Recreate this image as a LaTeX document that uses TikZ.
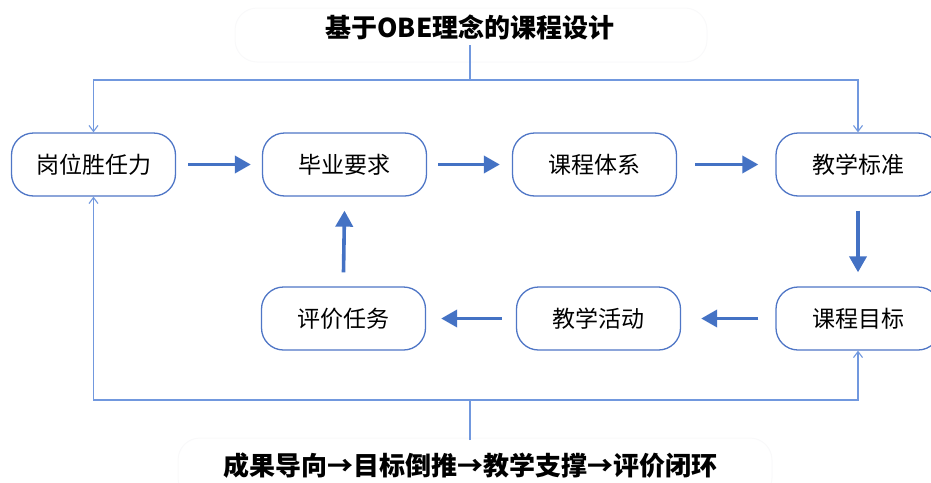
\documentclass[tikz,border=0pt]{standalone}
\usepackage{fontspec}
\newfontfamily\cjk{Noto Sans CJK SC}
\usetikzlibrary{arrows.meta}
\definecolor{boxblue}{HTML}{4F76C6}
\definecolor{thinblue}{HTML}{7198DE}
\definecolor{thickblue}{HTML}{4472C4}
\definecolor{faint}{HTML}{F9F9FA}
\tikzset{
  stepbox/.style={draw=boxblue, line width=1.3pt, rounded corners=22pt, fill=white,
    minimum width=164pt, minimum height=63pt, inner sep=0pt, font=\cjk\fontsize{23}{23}\selectfont},
  thin/.style={draw=thinblue, line width=1.2pt},
  thinarrow/.style={thin, -{Straight Barb[length=6pt,width=9pt,line width=1.1pt]}},
  bigarrow/.style={draw=thickblue, line width=3.6pt, -{Triangle[length=16pt,width=17pt]}},
  headline/.style={font=\cjk\bfseries\fontsize{26}{26}\selectfont, text=black},
  faintbox/.style={draw=faint, line width=1pt, rounded corners=22pt, fill=white}
}
\begin{document}
\begin{tikzpicture}[x=1pt,y=-1pt]
\useasboundingbox (0,0) rectangle (931,482);
\begin{scope}
\clip (0,0) rectangle (931,482);
% faint background boxes
\path[faintbox] (235,8) rectangle (707,62);
\path[faintbox] (178,438) rectangle (772,500);
% titles
\node[headline] (title) at (470,27) {基于OBE理念的课程设计};
\node[headline] (foot) at (470,466) {成果导向→目标倒推→教学支撑→评价闭环};
% nodes
\node[stepbox] (n1) at (93.5,164.5) {岗位胜任力};
\node[stepbox] (n2) at (344.5,164.5) {毕业要求};
\node[stepbox] (n3) at (594.5,164.5) {课程体系};
\node[stepbox] (n4) at (858,164.5) {教学标准};
\node[stepbox] (n5) at (858,318.5) {课程目标};
\node[stepbox] (n6) at (598.5,318.5) {教学活动};
\node[stepbox] (n7) at (343.5,318.5) {评价任务};
% coordinates for the tree lines
\coordinate (ttop) at (470,45);
\coordinate (tmid) at (470,80);
\coordinate (bmid) at (470,400);
\coordinate (bbot) at (470,440);
% top distribution
\draw[thin] (ttop) -- (tmid);
\draw[thinarrow] (tmid) -| (n1.north);
\draw[thinarrow] (tmid) -| (n4.north);
% bottom distribution
\draw[thin] (bbot) -- (bmid);
\draw[thinarrow] (bmid) -| (n1.south);
\draw[thinarrow] (bmid) -| (n5.south);
% main flow
\draw[bigarrow] ([xshift=12pt]n1.east) -- ([xshift=-11pt]n2.west);
\draw[bigarrow] ([xshift=11pt]n2.east) -- ([xshift=-12pt]n3.west);
\draw[bigarrow] ([xshift=18pt]n3.east) -- ([xshift=-17pt]n4.west);
\draw[bigarrow] ([yshift=-14pt]n4.south) -- ([yshift=14pt]n5.north);
\draw[bigarrow] ([xshift=-17pt]n5.west) -- ([xshift=20pt]n6.east);
\draw[bigarrow] ([xshift=-14pt]n6.west) -- ([xshift=15pt]n7.east);
\draw[bigarrow] ([yshift=14pt]n7.north) -- ([yshift=-14pt]n2.south);
\end{scope}
\end{tikzpicture}
\end{document}
